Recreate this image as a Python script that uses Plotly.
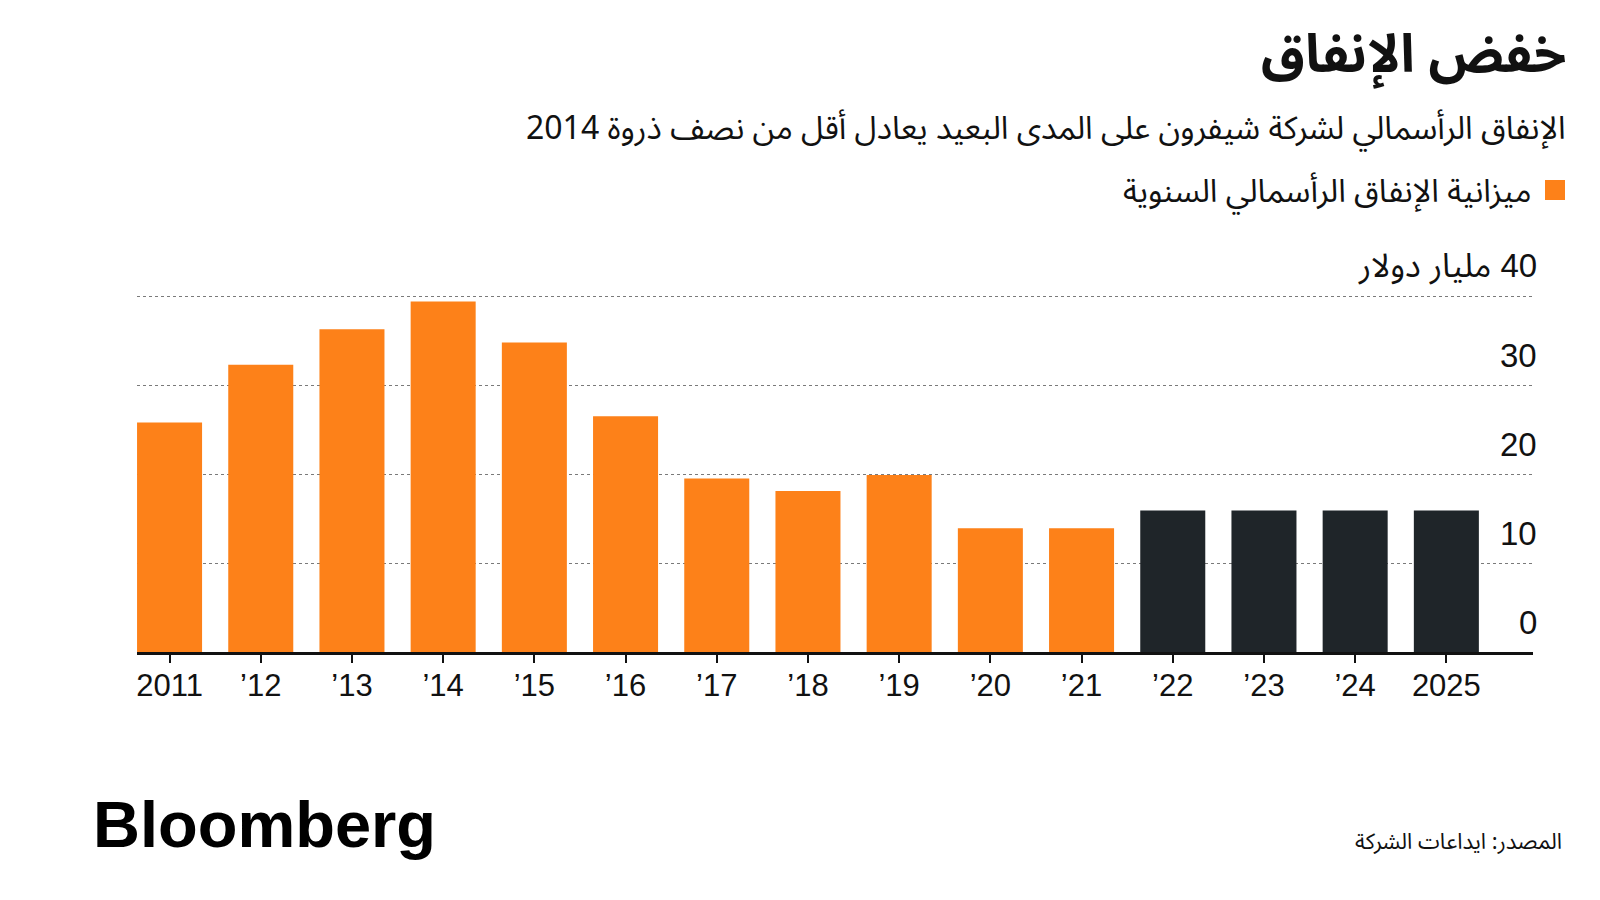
import plotly.graph_objects as go

# ---- data ----
years = [2011, 2012, 2013, 2014, 2015, 2016, 2017, 2018, 2019, 2020, 2021, 2022, 2023, 2024, 2025]
x_labels = ["2011", "’12", "’13", "’14", "’15", "’16", "’17", "’18", "’19", "’20", "’21", "’22", "’23", "’24", "2025"]
capex = [25.8, 32.3, 36.3, 39.4, 34.8, 26.5, 19.5, 18.1, 19.9, 13.9, 13.9, 15.9, 15.9, 15.9, 15.9]
is_projection = [False] * 11 + [True] * 4
y_ticks = [0, 10, 20, 30, 40]
y_tick_labels = ["0", "10", "20", "30", "\u200f40 مليار دولار"]

title = "خفض الإنفاق"
subtitle = "الإنفاق الرأسمالي لشركة شيفرون على المدى البعيد يعادل أقل من نصف ذروة 2014"
legend_label = "ميزانية الإنفاق الرأسمالي السنوية"
source = "المصدر: ايداعات الشركة"

ORANGE = "#FD8119"
DARK = "#1F2529"
INK = "#111111"

W, H = 1600, 900
L, R, T, B = 137, 67, 294, 248
PW, PH = W - L - R, H - T - B

def px(x):
    return (x - L) / PW

def py(y):
    return (H - B - y) / PH

AR_FONT = "Noto Sans Arabic, Noto Sans, DejaVu Sans, sans-serif"
NUM_FONT = "Liberation Sans, Arial, Helvetica, sans-serif"

fig = go.Figure()
fig.add_trace(go.Bar(
    x=list(range(len(years))),
    y=capex,
    marker=dict(color=[DARK if p else ORANGE for p in is_projection], line=dict(width=0)),
    name=legend_label,
    showlegend=False,
    hovertemplate="%{y}<extra></extra>",
))

annotations = []
for v, lab in zip(y_ticks, y_tick_labels):
    annotations.append(dict(
        x=px(1539), xref="paper", xanchor="right",
        y=v, yref="y", yanchor="middle", yshift=30,
        text=lab, showarrow=False,
        font=dict(family=NUM_FONT if v != 40 else "Liberation Sans, " + AR_FONT, size=33, color=INK),
    ))

annotations += [
    dict(x=px(1568), y=py(55), xref="paper", yref="paper", xanchor="right", yanchor="middle",
         text="<b>" + title + "</b>", showarrow=False,
         font=dict(family=AR_FONT, size=53, color=INK)),
    dict(x=px(1568), y=py(129), xref="paper", yref="paper", xanchor="right", yanchor="middle",
         text=subtitle, showarrow=False,
         font=dict(family=AR_FONT, size=32, color=INK)),
    dict(x=px(1533), y=py(192), xref="paper", yref="paper", xanchor="right", yanchor="middle",
         text=legend_label, showarrow=False,
         font=dict(family=AR_FONT, size=32, color=INK)),
    dict(x=px(1564), y=py(842), xref="paper", yref="paper", xanchor="right", yanchor="middle",
         text=source, showarrow=False,
         font=dict(family=AR_FONT, size=22, color=INK)),
    dict(x=px(91), y=py(824), xref="paper", yref="paper", xanchor="left", yanchor="middle",
         text="<b>Bloomberg</b>", showarrow=False,
         font=dict(family="Liberation Sans, Arial, sans-serif", size=65, color="#000000")),
]

shapes = [
    dict(type="rect", xref="paper", yref="paper",
         x0=px(1545), x1=px(1565), y0=py(200), y1=py(180),
         fillcolor=ORANGE, line=dict(width=0)),
]

fig.update_layout(
    width=W, height=H,
    margin=dict(l=L, r=R, t=T, b=B, pad=0),
    paper_bgcolor="white", plot_bgcolor="white",
    bargap=0.287,
    showlegend=False,
    annotations=annotations,
    shapes=shapes,
    xaxis=dict(
        range=[-0.357, 14.95],
        tickmode="array", tickvals=list(range(len(years))), ticktext=x_labels,
        ticks="outside", ticklen=8, tickwidth=2, tickcolor=INK,
        showline=True, linecolor=INK, linewidth=2.5,
        showgrid=False, zeroline=False,
        tickfont=dict(family=NUM_FONT, size=31, color=INK),
        ticklabelstandoff=-4,
        fixedrange=True,
    ),
    yaxis=dict(
        range=[0, 40.25],
        tickvals=y_ticks, showticklabels=False,
        showgrid=True, gridcolor="#7a7a7a", gridwidth=1, griddash="dot",
        zeroline=False, showline=False, ticks="",
        fixedrange=True,
    ),
)

fig.write_html("out.html")
